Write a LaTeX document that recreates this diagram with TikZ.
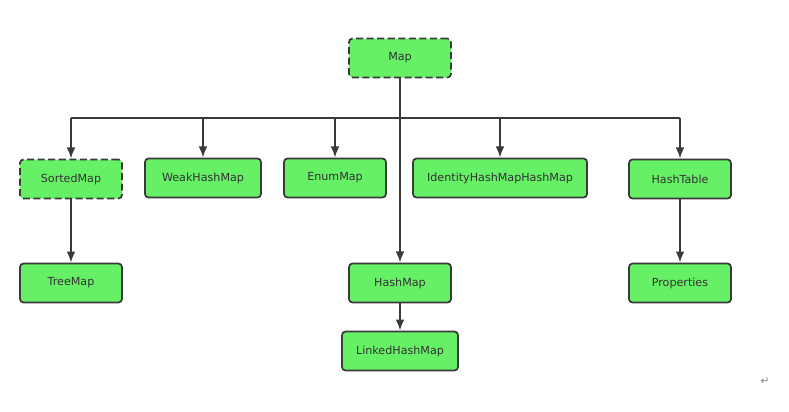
\documentclass[tikz,border=0pt]{standalone}
\usepackage{fontspec}
\setmainfont{DejaVu Sans}
\newfontfamily\symfont{DejaVu Sans}
\usepackage{tikz}
\usetikzlibrary{calc,arrows.meta}

\definecolor{mapgreen}{RGB}{102,240,102}
\definecolor{mapline}{RGB}{58,58,58}

\tikzset{
  cls/.style={draw=mapline, fill=mapgreen, rounded corners=3pt, line width=1.5pt,
    minimum width=3.06cm, minimum height=1.17cm, inner sep=0pt,
    font=\fontsize{9.5}{11}\selectfont, text=black!80},
  iface/.style={cls, dash pattern=on 6pt off 3pt},
}

\begin{document}
\begin{tikzpicture}[>={Latex[length=9.5pt,width=7.5pt]},x=0.03cm,y=-0.03cm,line width=1.6pt,draw=mapline,node distance=3.12cm]
  \useasboundingbox (0,0) rectangle (789,411);

  \node[iface] (Map) at (400,58) {Map};

  \node[iface] (SortedMap) at (71,179) {SortedMap};
  \node[cls, minimum width=3.48cm] (WeakHashMap) at (203,178) {WeakHashMap};
  \node[cls] (EnumMap) at (335,178) {EnumMap};
  \node[cls, minimum width=5.22cm] (IdentityHashMap) at (500,178) {IdentityHashMapHashMap};
  \node[cls] (HashTable) at (680,179) {HashTable};

  \node[cls, below of=SortedMap] (TreeMap) {TreeMap};
  \node[cls, below of=HashTable] (Properties) {Properties};
  \node[cls] (HashMap) at (400,283) {HashMap};
  \node[cls, minimum width=3.48cm, below of=HashMap, node distance=2.04cm] (LinkedHashMap) {LinkedHashMap};

  \coordinate (bus) at (400,118);

  \draw[mapline] (Map) -- (bus);
  \draw[mapline] (SortedMap |- bus) -- (HashTable |- bus);
  \draw[->,mapline] (SortedMap |- bus) -- (SortedMap);
  \draw[->,mapline] (WeakHashMap |- bus) -- (WeakHashMap);
  \draw[->,mapline] (EnumMap |- bus) -- (EnumMap);
  \draw[->,mapline] (IdentityHashMap |- bus) -- (IdentityHashMap);
  \draw[->,mapline] (HashTable |- bus) -- (HashTable);
  \draw[->,mapline] (bus) -- (HashMap);

  \draw[->,mapline] (SortedMap) -- (TreeMap);
  \draw[->,mapline] (HashTable) -- (Properties);
  \draw[->,mapline] (HashMap) -- (LinkedHashMap);

  \node[text=gray, font=\symfont\fontsize{9}{10}\selectfont] (ret) at (765,381) {↵};
\end{tikzpicture}
\end{document}
